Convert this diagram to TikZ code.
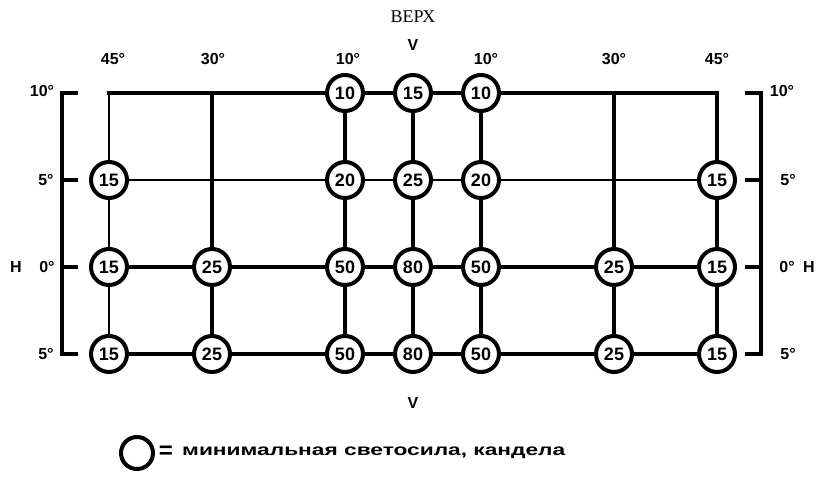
\documentclass[tikz,border=0pt]{standalone}
\usepackage{fontspec}
\setmainfont{Liberation Sans}
\newfontfamily\serifrm{Liberation Serif}
\begin{document}
\begin{tikzpicture}[x=1pt,y=-1pt,
  val/.style={circle,draw,line width=4pt,minimum size=36pt,inner sep=0pt,fill=white,
    font=\fontsize{18}{18}\selectfont\bfseries},
  lab/.style={inner sep=0pt,font=\fontsize{16}{16}\selectfont\bfseries},
  edA/.style={line width=4.4pt,line cap=rect},
  edB/.style={line width=2.6pt,line cap=rect},
  edC/.style={line width=4pt,line cap=rect},
  brk/.style={line width=4.4pt,line cap=rect,line join=miter}]
\useasboundingbox (0,0) rectangle (821,479);
% row a (10 deg)
\coordinate (n1-a) at (109,93);
\coordinate (n2-a) at (212,93);
\node[val] (n3-a) at (345,93) {10};
\node[val] (n4-a) at (413,93) {15};
\node[val] (n5-a) at (481,93) {10};
\coordinate (n6-a) at (614,93);
\coordinate (n7-a) at (717,93);
% row b (5 deg)
\node[val] (n1-b) at (109,180) {15};
\coordinate (n2-b) at (212,180);
\node[val] (n3-b) at (345,180) {20};
\node[val] (n4-b) at (413,180) {25};
\node[val] (n5-b) at (481,180) {20};
\coordinate (n6-b) at (614,180);
\node[val] (n7-b) at (717,180) {15};
% row c (0 deg)
\node[val] (n1-c) at (109,267) {15};
\node[val] (n2-c) at (212,267) {25};
\node[val] (n3-c) at (345,267) {50};
\node[val] (n4-c) at (413,267) {80};
\node[val] (n5-c) at (481,267) {50};
\node[val] (n6-c) at (614,267) {25};
\node[val] (n7-c) at (717,267) {15};
% row d (-5 deg)
\node[val] (n1-d) at (109,354) {15};
\node[val] (n2-d) at (212,354) {25};
\node[val] (n3-d) at (345,354) {50};
\node[val] (n4-d) at (413,354) {80};
\node[val] (n5-d) at (481,354) {50};
\node[val] (n6-d) at (614,354) {25};
\node[val] (n7-d) at (717,354) {15};
% horizontal connectors
\foreach \i/\j in {1/2,2/3,3/4,4/5,5/6,6/7}{
  \draw[edA] (n\i-a) -- (n\j-a);
  \draw[edB] (n\i-b) -- (n\j-b);
  \draw[edC] (n\i-c) -- (n\j-c);
  \draw[edA] (n\i-d) -- (n\j-d);
}
% vertical connectors
\foreach \r/\s in {a/b,b/c,c/d}{
  \draw[edB] (n1-\r) -- (n1-\s);
  \foreach \k in {2,3,4,5,6,7}{
    \draw[edC] (n\k-\r) -- (n\k-\s);
  }
}
% left bracket
\coordinate (LTa) at (76,93);  \coordinate (LVa) at (62,93);
\coordinate (LTb) at (76,180); \coordinate (LVb) at (62,180);
\coordinate (LTc) at (76,267); \coordinate (LVc) at (62,267);
\coordinate (LTd) at (76,354); \coordinate (LVd) at (62,354);
\draw[brk] (LTa) -- (LVa) -- (LVd) -- (LTd);
\draw[brk] (LVb) -- (LTb);
\draw[brk] (LVc) -- (LTc);
% right bracket
\coordinate (RTa) at (747,93);  \coordinate (RVa) at (761,93);
\coordinate (RTb) at (747,180); \coordinate (RVb) at (761,180);
\coordinate (RTc) at (747,267); \coordinate (RVc) at (761,267);
\coordinate (RTd) at (747,354); \coordinate (RVd) at (761,354);
\draw[brk] (RTa) -- (RVa) -- (RVd) -- (RTd);
\draw[brk] (RVb) -- (RTb);
\draw[brk] (RVc) -- (RTc);
% side labels
\node[lab] (l10) at (42,91) {10°};
\node[lab] (l5) at (46,180) {5°};
\node[lab] (l0) at (47,267) {0°};
\node[lab] (lm5) at (46,354) {5°};
\node[lab] (lH) at (16,267) {H};
\node[lab] (r10) at (782,91) {10°};
\node[lab] (r5) at (788,180) {5°};
\node[lab] (r0) at (787,267) {0°};
\node[lab] (rm5) at (788,354) {5°};
\node[lab] (rH) at (809,267) {H};
% top labels
\node[lab] (t1) at (113,59) {45°};
\node[lab] (t2) at (213,59) {30°};
\node[lab] (t3) at (348,59) {10°};
\node[lab] (t5) at (486,59) {10°};
\node[lab] (t6) at (614,59) {30°};
\node[lab] (t7) at (717,59) {45°};
\node[lab] (vtop) at (413,45) {V};
\node[inner sep=0pt,font=\serifrm\fontsize{18}{18}\selectfont] (verh) at (413,17) {ВЕРХ};
\node[lab] (vbot) at (413,403) {V};
% legend
\node[circle,draw,line width=4pt,minimum size=32pt,inner sep=0pt] (leg) at (137,453) {};
\node[inner sep=0pt,font=\fontsize{24}{24}\selectfont\bfseries] (eq) at (166,452) {=};
\node[inner sep=0pt,anchor=west,font=\fontsize{16}{16}\selectfont\bfseries] (legtxt) at (182,453)
  {\scalebox{1.42}[1]{минимальная светосила, кандела}};
\end{tikzpicture}
\end{document}
